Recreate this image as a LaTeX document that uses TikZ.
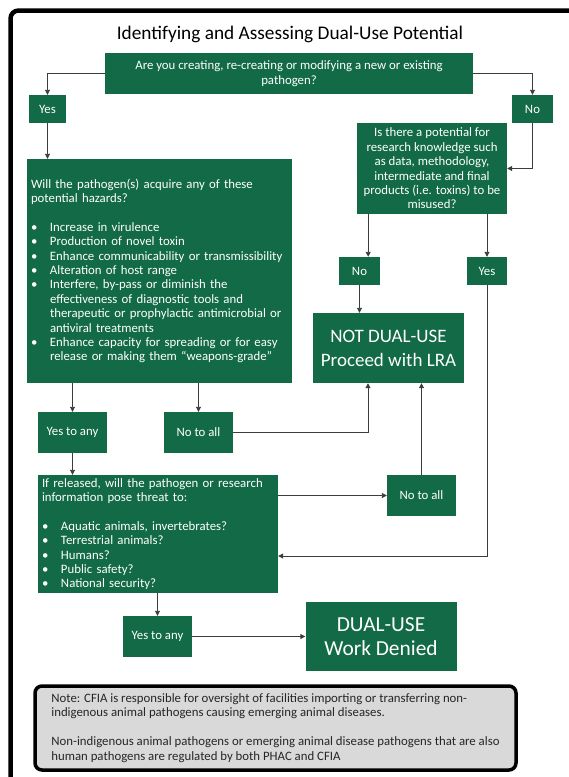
\documentclass[tikz,border=0pt]{standalone}
\usepackage{fontspec}
\setmainfont{Carlito}
\usetikzlibrary{arrows.meta}
\definecolor{dugreen}{RGB}{18,106,71}
\definecolor{linegray}{RGB}{60,60,60}
\definecolor{notegray}{RGB}{217,217,217}
\newcommand{\bul}{\makebox[19pt][l]{\textbullet}}
\newcommand{\ind}{\hspace*{19pt}}
\tikzset{
  box/.style={fill=dugreen, text=white, inner sep=0pt, align=center,
    font=\fontsize{12.8}{14.4}\selectfont},
  boxsize/.style 2 args={minimum width=#1pt, minimum height=#2pt},
  arr/.style={draw=linegray, line width=0.9pt, -{Triangle[length=5pt,width=5pt]}}
}
\begin{document}
\begin{tikzpicture}[x=1pt, y=-1pt]
\useasboundingbox (0,0) rectangle (569,777);
\clip (0,0) rectangle (569,777);
%outer frame
\draw [line width=4.5pt, rounded corners=8pt] (10.5,10.5) rectangle (600,800);
\node [font=\fontsize{19.3}{23}\selectfont] (title) at (290,34) {Identifying and Assessing Dual-Use Potential};
%questions
\node [box, boxsize={368}{41}] (q1) at (289,73.5) {Are you creating, re-creating or modifying a new or existing\\ pathogen?};
\node [box, boxsize={150}{91}] (q3) at (432,168.5) {Is there a potential for\\ research knowledge such\\ as data, methodology,\\ intermediate and final\\ products (i.e. toxins) to be\\ misused?};
\node [box, align=left, text width=257pt, inner xsep=4pt, minimum height=224pt] (q2) at (159.5,271) {Will the pathogen(s) acquire any of these\\ potential hazards?\\[14.4pt]
  \bul Increase in virulence\\
  \bul Production of novel toxin\\
  \bul Enhance communicability or transmissibility\\
  \bul Alteration of host range\\
  \bul Interfere, by-pass or diminish the\\
  \ind effectiveness of diagnostic tools and\\
  \ind therapeutic or prophylactic antimicrobial or\\
  \ind antiviral treatments\\
  \bul Enhance capacity for spreading or for easy\\
  \ind release or making them “weapons-grade”};
\node [box, align=left, text width=232pt, inner xsep=4pt, minimum height=118pt] (q4) at (158,534) {If released, will the pathogen or research\\ information pose threat to:\\[14.4pt]
  \bul Aquatic animals, invertebrates?\\
  \bul Terrestrial animals?\\
  \bul Humans?\\
  \bul Public safety?\\
  \bul National security?};
%answers
\node [box, boxsize={37}{28}] (yes) at (47.5,109) {Yes};
\node [box, boxsize={41}{28}] (no) at (532.5,109) {No};
\node [box, boxsize={41}{28}] (no2) at (359.5,271) {No};
\node [box, boxsize={40}{28}] (yes2) at (487,271) {Yes};
\node [box, boxsize={69}{41}] (yesany1) at (72.5,432.5) {Yes to any};
\node [box, boxsize={69}{41}] (noall1) at (198.5,432.5) {No to all};
\node [box, boxsize={69}{41}] (noall2) at (421.5,495.5) {No to all};
\node [box, boxsize={69}{41}] (yesany2) at (157.5,636.5) {Yes to any};
%outcomes
\node [box, boxsize={151}{70}, font=\fontsize{19}{24}\selectfont] (ndu) at (388.5,348) {NOT DUAL-USE\\ Proceed with LRA};
\node [box, boxsize={151}{69}, font=\fontsize{21.4}{23.5}\selectfont] (du) at (381,636.5) {DUAL-USE\\ Work Denied};
%note
\node [draw, line width=3.5pt, rounded corners=7pt, fill=notegray, align=left, boxsize={481}{84},
  text=black!85, font=\fontsize{12.8}{14.4}\selectfont] (note) at (275.5,728) {Note: CFIA is responsible for oversight of facilities importing or transferring non-\\ indigenous animal pathogens causing emerging animal diseases.\\[14.4pt]
  Non-indigenous animal pathogens or emerging animal disease pathogens that are also\\ human pathogens are regulated by both PHAC and CFIA};
%connectors
\draw [arr] (q1.west) -| (yes.north);
\draw [arr] (q1.east) -| (no.north);
\draw [arr] (yes.south) -- (yes.south |- q2.north);
\draw [arr] (no.south) |- (q3.east);
\draw [arr] ([xshift=-12pt]no2.north east |- q3.south) -- ([xshift=-12pt]no2.north east);
\draw [arr] (yes2.north |- q3.south) -- (yes2.north);
\draw [arr] (no2.south) -- (no2.south |- ndu.north);
\draw [arr] (yesany1.north |- q2.south) -- (yesany1.north);
\draw [arr] (noall1.north |- q2.south) -- (noall1.north);
\draw [arr] (noall1.east) -| ([xshift=-20.5pt]ndu.south);
\draw [arr] (noall2.north) -- (noall2.north |- ndu.south);
\draw [arr] (yes2.south) |- ([yshift=-22pt]q4.east);
\draw [arr] (yesany1.south) -- (yesany1.south |- q4.north);
\draw [arr] (noall2.west -| q4.east) -- (noall2.west);
\draw [arr] (yesany2.north |- q4.south) -- (yesany2.north);
\draw [arr] (yesany2.east) -- (du.west);
\end{tikzpicture}
\end{document}
